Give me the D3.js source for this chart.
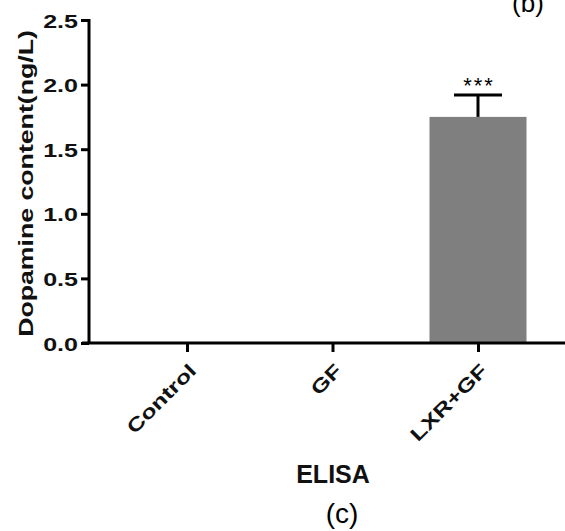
<!DOCTYPE html>
<html>
<head>
<meta charset="utf-8">
<script src="https://cdn.jsdelivr.net/npm/d3@7"></script>
<style>
  body { margin: 0; background: #fff; }
  svg text { font-family: "Liberation Sans", Arial, sans-serif; }
</style>
</head>
<body>
<svg id="chart" width="565" height="531"></svg>
<script>
const groups = ['Control', 'GF', 'LXR+GF'];
const means = [0, 0, 1.75];
const errors = [0, 0, 0.17];
const marks = ['', '', '***'];
const yTicks = [0, 0.5, 1.0, 1.5, 2.0, 2.5];

let svg = d3.select('#chart'),
  plotLeft = 89,
  plotTop = 20,
  plotBottom = 343;

let x = d3.scalePoint()
  .domain(groups)
  .range([187, 478]);

let y = d3.scaleLinear()
  .domain([0, 2.5])
  .range([plotBottom, plotTop]);

let barW = 97;

// bars
svg.selectAll('rect.bar')
  .data(groups)
  .enter()
  .append('rect')
  .attr('class', 'bar')
  .attr('x', d => x(d) - barW / 2)
  .attr('width', barW)
  .attr('y', (d, i) => y(means[i]))
  .attr('height', (d, i) => plotBottom - y(means[i]))
  .attr('fill', '#7f7f80');

// error bars (upper only)
let idx = d => groups.indexOf(d);
let err = svg.selectAll('g.err')
  .data(groups.filter((d, i) => errors[i] > 0))
  .enter()
  .append('g')
  .attr('stroke', '#000')
  .attr('stroke-width', 3);
err.append('line')
  .attr('x1', d => x(d)).attr('x2', d => x(d))
  .attr('y1', d => y(means[idx(d)]))
  .attr('y2', d => y(means[idx(d)] + errors[idx(d)]));
err.append('line')
  .attr('x1', d => x(d) - 24).attr('x2', d => x(d) + 24)
  .attr('y1', d => y(means[idx(d)] + errors[idx(d)]))
  .attr('y2', d => y(means[idx(d)] + errors[idx(d)]));

svg.selectAll('text.mark')
  .data(groups.filter((d, i) => marks[i]))
  .enter()
  .append('text')
  .attr('x', d => x(d) + 1)
  .attr('y', d => y(means[idx(d)] + errors[idx(d)]) - 2)
  .attr('text-anchor', 'middle')
  .attr('font-size', 22)
  .attr('letter-spacing', 2)
  .text(d => marks[idx(d)]);

// y axis
let yAxis = svg.append('g')
  .attr('transform', `translate(${plotLeft},0)`)
  .call(d3.axisLeft(y).tickValues(yTicks).tickFormat(d3.format('.1f')).tickSize(8).tickPadding(0));
yAxis.select('.domain').attr('stroke-width', 3).attr('d', `M0,${plotTop - 1}V${plotBottom}`);
yAxis.selectAll('.tick line').attr('stroke-width', 3);
yAxis.selectAll('.tick text')
  .attr('x', 0)
  .attr('dy', null)
  .attr('font-size', 19)
  .attr('font-weight', 'bold')
  .attr('fill', '#111')
  .attr('text-anchor', 'end')
  .attr('transform', 'translate(-11,7) scale(1.32,1)');

// x axis
let xAxis = svg.append('g')
  .attr('transform', `translate(0,${plotBottom})`)
  .call(d3.axisBottom(x).tickSize(9).tickSizeOuter(0));
xAxis.select('.domain').attr('stroke-width', 3).attr('d', 'M82,0H565');
xAxis.selectAll('.tick line').attr('stroke-width', 3);
xAxis.selectAll('.tick text')
  .attr('x', 0)
  .attr('y', 0)
  .attr('dy', null)
  .attr('font-size', 19)
  .attr('font-weight', 'bold')
  .attr('fill', '#111')
  .attr('text-anchor', 'end')
  .attr('transform', 'translate(10,29) rotate(-45) scale(1.32,1)');

// axis titles
svg.append('text')
  .attr('transform', `translate(33,${(plotTop + plotBottom) / 2 + 2}) rotate(-90) scale(1.27,1)`)
  .attr('text-anchor', 'middle')
  .attr('font-size', 21)
  .attr('font-weight', 'bold')
  .attr('fill', '#111')
  .text('Dopamine content(ng/L)');

svg.append('text')
  .attr('x', 333)
  .attr('y', 483)
  .attr('text-anchor', 'middle')
  .attr('font-size', 25)
  .attr('font-weight', 'bold')
  .attr('fill', '#111')
  .text('ELISA');

// panel labels
svg.append('text')
  .attr('x', 342)
  .attr('y', 523)
  .attr('text-anchor', 'middle')
  .attr('font-size', 28)
  .attr('font-family', '"Liberation Serif", "Times New Roman", serif')
  .text('(c)');

svg.append('text')
  .attr('x', 528)
  .attr('y', 12)
  .attr('text-anchor', 'middle')
  .attr('font-size', 26)
  .attr('font-family', '"Liberation Serif", "Times New Roman", serif')
  .text('(b)');
</script>
</body>
</html>
